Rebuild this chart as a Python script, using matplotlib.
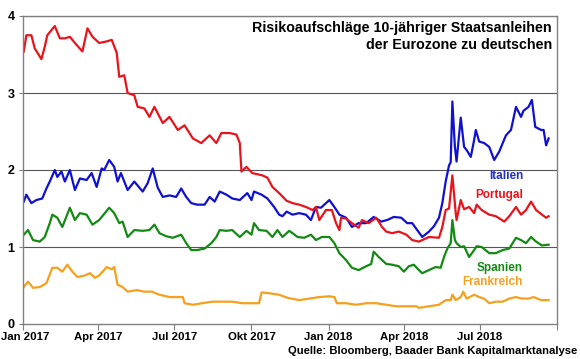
import matplotlib
matplotlib.use("Agg")
import matplotlib.pyplot as plt
import matplotlib.transforms as mtransforms
import pandas as pd

START = "2017-01-01"

# Day offsets from 2017-01-01 and spread values (percentage points)
prt_days = [1, 4, 10, 14, 22, 26, 29, 38, 44, 50, 56, 62, 71, 77, 83, 91, 100, 106, 112, 115,
            121, 125, 133, 137, 145, 151, 157, 167, 175, 185, 193, 203, 213, 223, 231, 237, 247,
            255, 259, 261, 267, 274, 286, 292, 298, 306, 315, 322, 330, 338, 346, 350, 354, 362,
            369, 374, 378, 380, 386, 393, 401, 405, 413, 422, 429, 434, 441, 449, 458, 465, 473,
            485, 497, 501, 505, 509, 513, 517, 518, 523, 527, 533, 539, 542, 548, 557, 565, 575,
            581, 589, 595, 601, 607, 613, 620, 625, 628]
prt_vals = [3.54, 3.75, 3.75, 3.58, 3.44, 3.60, 3.75, 3.87, 3.71, 3.71, 3.73, 3.65, 3.54, 3.84,
            3.73, 3.65, 3.67, 3.69, 3.52, 3.21, 3.23, 3.00, 2.97, 2.82, 2.80, 2.69, 2.82, 2.61,
            2.69, 2.52, 2.58, 2.41, 2.35, 2.45, 2.35, 2.48, 2.48, 2.46, 2.35, 1.98, 2.04, 1.96,
            1.93, 1.90, 1.78, 1.70, 1.60, 1.57, 1.55, 1.52, 1.48, 1.52, 1.35, 1.48, 1.48, 1.31,
            1.22, 1.38, 1.37, 1.31, 1.25, 1.35, 1.31, 1.38, 1.26, 1.20, 1.18, 1.20, 1.16, 1.09,
            1.07, 1.13, 1.12, 1.26, 1.48, 1.50, 1.93, 1.44, 1.35, 1.61, 1.49, 1.52, 1.44, 1.55,
            1.48, 1.42, 1.40, 1.33, 1.40, 1.52, 1.42, 1.48, 1.59, 1.48, 1.42, 1.38, 1.40]

ita_days = [1, 4, 10, 16, 23, 28, 32, 38, 41, 46, 50, 56, 62, 68, 76, 82, 88, 94, 97, 103, 109,
            113, 117, 125, 133, 143, 149, 155, 161, 167, 175, 183, 189, 195, 201, 208, 217, 223,
            229, 235, 243, 250, 259, 268, 273, 276, 285, 292, 300, 306, 310, 315, 322, 330, 338,
            344, 350, 356, 362, 366, 372, 378, 386, 393, 401, 410, 419, 428, 435, 443, 452, 459,
            465, 471, 477, 485, 491, 497, 501, 505, 509, 511, 513, 516, 518, 523, 527, 530, 535,
            539, 541, 545, 551, 557, 563, 569, 577, 583, 589, 595, 598, 604, 608, 612, 619, 622,
            625, 628]
ita_vals = [1.59, 1.68, 1.57, 1.61, 1.63, 1.76, 1.85, 2.00, 1.91, 1.98, 1.85, 2.00, 1.74, 1.89,
            1.87, 1.96, 1.78, 2.02, 2.00, 2.13, 2.04, 1.85, 1.96, 1.74, 1.85, 1.72, 1.83, 2.02,
            1.77, 1.65, 1.67, 1.65, 1.76, 1.65, 1.57, 1.55, 1.55, 1.65, 1.59, 1.72, 1.68, 1.63,
            1.61, 1.70, 1.61, 1.72, 1.68, 1.63, 1.52, 1.42, 1.40, 1.46, 1.42, 1.44, 1.42, 1.35,
            1.52, 1.51, 1.57, 1.61, 1.52, 1.42, 1.38, 1.26, 1.31, 1.31, 1.39, 1.33, 1.35, 1.39,
            1.38, 1.31, 1.31, 1.22, 1.13, 1.20, 1.27, 1.38, 1.57, 1.85, 2.06, 2.10, 2.89, 2.30,
            2.11, 2.68, 2.30, 2.26, 2.17, 2.39, 2.52, 2.37, 2.35, 2.30, 2.13, 2.24, 2.45, 2.52,
            2.82, 2.69, 2.77, 2.82, 2.91, 2.56, 2.52, 2.52, 2.32, 2.41]

esp_days = [1, 6, 12, 20, 26, 32, 35, 41, 47, 56, 62, 68, 76, 83, 91, 103, 109, 115, 119, 125,
            133, 143, 151, 157, 163, 171, 179, 189, 195, 201, 208, 217, 225, 231, 235, 243, 250,
            259, 267, 273, 276, 282, 291, 298, 304, 310, 318, 322, 328, 336, 344, 350, 357, 366,
            372, 378, 386, 393, 401, 410, 416, 419, 425, 434, 441, 449, 455, 461, 467, 473, 477,
            485, 493, 499, 503, 507, 511, 513, 516, 518, 523, 527, 533, 539, 542, 548, 557, 565,
            573, 581, 589, 595, 601, 607, 613, 620, 628]
esp_vals = [1.16, 1.22, 1.09, 1.07, 1.13, 1.31, 1.42, 1.38, 1.26, 1.51, 1.35, 1.44, 1.42, 1.29,
            1.35, 1.51, 1.44, 1.31, 1.33, 1.13, 1.22, 1.21, 1.22, 1.29, 1.18, 1.14, 1.12, 1.16,
            1.05, 0.96, 0.96, 0.98, 1.05, 1.13, 1.22, 1.21, 1.22, 1.13, 1.21, 1.16, 1.31, 1.22,
            1.21, 1.13, 1.22, 1.13, 1.21, 1.18, 1.13, 1.12, 1.16, 1.09, 1.13, 1.13, 1.05, 0.92,
            0.83, 0.73, 0.70, 0.75, 0.78, 0.94, 0.87, 0.78, 0.77, 0.75, 0.68, 0.75, 0.77, 0.70,
            0.66, 0.70, 0.74, 0.73, 0.87, 0.98, 1.05, 1.35, 1.09, 1.05, 1.00, 1.01, 0.87, 0.96,
            1.01, 1.00, 0.92, 0.92, 0.96, 0.98, 1.12, 1.09, 1.05, 1.13, 1.07, 1.02, 1.03]

fra_days = [1, 6, 12, 20, 28, 35, 41, 47, 53, 59, 65, 74, 80, 86, 91, 100, 106, 109, 113, 119,
            125, 136, 145, 154, 163, 175, 187, 191, 193, 203, 214, 226, 238, 250, 262, 274, 282,
            285, 294, 306, 316, 330, 342, 354, 366, 372, 375, 386, 398, 410, 422, 434, 446, 458,
            470, 473, 485, 497, 505, 511, 513, 517, 523, 526, 530, 539, 545, 551, 557, 565, 573,
            581, 589, 596, 604, 610, 619, 628]
fra_vals = [0.48, 0.55, 0.47, 0.48, 0.53, 0.73, 0.73, 0.68, 0.77, 0.68, 0.61, 0.63, 0.66, 0.60,
            0.63, 0.74, 0.71, 0.74, 0.51, 0.48, 0.42, 0.44, 0.42, 0.42, 0.38, 0.35, 0.35, 0.35,
            0.27, 0.25, 0.27, 0.29, 0.29, 0.29, 0.27, 0.27, 0.27, 0.41, 0.40, 0.38, 0.34, 0.31,
            0.33, 0.35, 0.36, 0.35, 0.27, 0.27, 0.25, 0.27, 0.27, 0.25, 0.23, 0.23, 0.23, 0.21,
            0.23, 0.25, 0.31, 0.31, 0.38, 0.31, 0.35, 0.42, 0.33, 0.38, 0.35, 0.33, 0.27, 0.29,
            0.29, 0.33, 0.35, 0.33, 0.33, 0.35, 0.31, 0.31]

tick_dates = ["2017-01-01", "2017-04-01", "2017-07-01", "2017-10-01",
              "2018-01-01", "2018-04-01", "2018-07-01", "2018-10-01"]
tick_labels = ["Jan 2017", "Apr 2017", "Jul 2017", "Okt 2017",
               "Jan 2018", "Apr 2018", "Jul 2018", ""]
y_ticks = [0, 1, 2, 3, 4]

title = "Risikoaufschläge 10-jähriger Staatsanleihen\nder Eurozone zu deutschen"
source = "Quelle: Bloomberg, Baader Bank Kapitalmarktanalyse"

series = [
    ("Italien", ita_days, ita_vals, "#1010D0"),
    ("Portugal", prt_days, prt_vals, "#E8141B"),
    ("Spanien", esp_days, esp_vals, "#138A13"),
    ("Frankreich", fra_days, fra_vals, "#F5A01E"),
]

plt.rcParams['font.family'] = ['Liberation Sans', 'DejaVu Sans']
plt.rcParams['font.weight'] = 'bold'

fig = plt.figure(figsize=(5.8, 3.59), dpi=100)
ax = fig.add_axes([23/580, 35/359, (557-23)/580, (324-16)/359])

start = pd.Timestamp(START)
for name, d, v, c in series:
    dates = start + pd.to_timedelta(d, unit="D")
    ax.plot(dates, v, color=c, lw=1.6, solid_joinstyle="round")

ax.set_xlim(pd.Timestamp("2017-01-01"), pd.Timestamp("2018-10-01"))
ax.set_ylim(0, 4)
ax.set_yticks(y_ticks)
ax.set_yticklabels([str(t) for t in y_ticks], fontsize=9, fontweight='bold')
ax.set_xticks(pd.to_datetime(tick_dates))
ax.set_xticklabels(tick_labels, fontsize=8.2, fontweight='bold')
ax.tick_params(axis='x', direction='out', length=4, color='#808080', pad=2)
ax.tick_params(axis='y', direction='out', length=3, color='#808080', pad=3)
first = ax.get_xticklabels()[0]
first.set_transform(first.get_transform() +
                    mtransforms.ScaledTranslation(2/100, 0, fig.dpi_scale_trans))
for t in y_ticks[1:]:
    ax.axhline(t, color='#555555', lw=0.8, zorder=0)
for s in ax.spines.values():
    s.set_color('#808080')
    s.set_linewidth(1.0)

fig.text(552/580, 1 - 21/359, title, ha='right', va='top', fontsize=10.3,
         fontweight='bold', linespacing=1.25)

lab_x = 523/580
labels = [("Italien", 176, "#1F2FC8"), ("Portugal", 195, "#E8141B"),
          ("Spanien", 268, "#138A13"), ("Frankreich", 282, "#F5A01E")]
for txt, yy, c in labels:
    fig.text(lab_x, 1 - yy/359, txt, ha='right', va='center', fontsize=8.5,
             fontweight='bold', color=c)

fig.text(577/580, 1 - 351/359, source, ha='right', va='center', fontsize=8.1,
         fontweight='bold')

fig.savefig("out.png", dpi=100)
